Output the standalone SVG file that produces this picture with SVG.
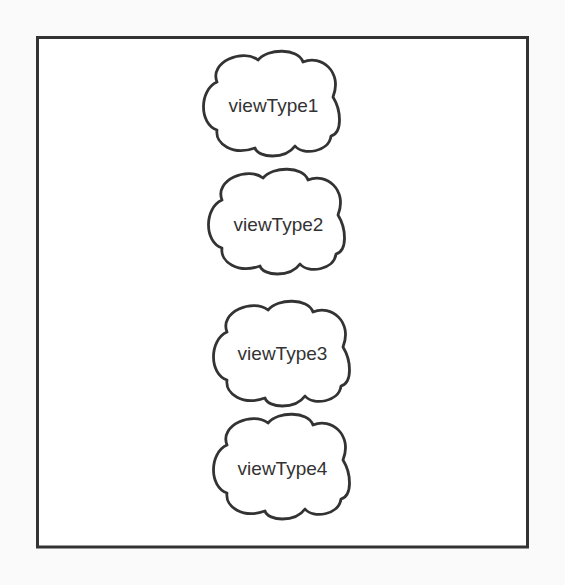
<svg xmlns="http://www.w3.org/2000/svg" width="565" height="585" viewBox="0 0 565 585">
  <style>
    .cloud { fill: #ffffff; stroke: #333333; stroke-width: 2.8; stroke-linejoin: round; }
    .label { font-family: "Liberation Sans", Arial, sans-serif; font-size: 19px; fill: #333333; text-anchor: middle; }
  </style>
  <defs>
    <path id="cloudShape" d="M 14,30 C 6,10 40,-4 55,8 C 65,-4 95,-4 100,10 C 118,2 140,20 130,45 C 138,58 140,80 128,84 C 126,100 100,104 92,94 C 82,108 55,106 52,96 C 30,104 12,92 14,78 C -4,72 -4,38 14,30 Z"/>
  </defs>
  <rect x="0" y="0" width="565" height="585" fill="#fafafa"/>
  <rect id="frame" x="37.5" y="37.5" width="490" height="509.5" fill="#ffffff" stroke="#333333" stroke-width="3"/>
  <g id="connectors"></g>
  <g id="viewType1">
    <use href="#cloudShape" class="cloud" transform="translate(203,52)"/>
    <text class="label" x="273.5" y="112">viewType1</text>
  </g>
  <g id="viewType2">
    <use href="#cloudShape" class="cloud" transform="translate(208,170)"/>
    <text class="label" x="278.5" y="231">viewType2</text>
  </g>
  <g id="viewType3">
    <use href="#cloudShape" class="cloud" transform="translate(213,302)"/>
    <text class="label" x="282.5" y="360">viewType3</text>
  </g>
  <g id="viewType4">
    <use href="#cloudShape" class="cloud" transform="translate(213,415)"/>
    <text class="label" x="282.5" y="475">viewType4</text>
  </g>
</svg>
